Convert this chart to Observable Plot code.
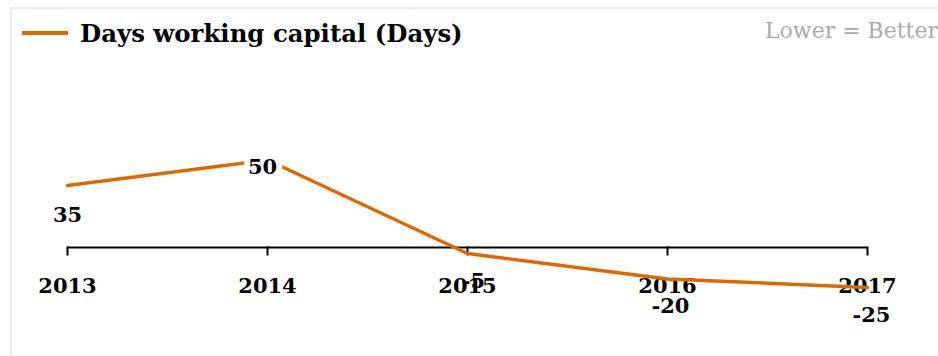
<!DOCTYPE html>
<html>
<head>
<meta charset="utf-8">
<script src="https://cdn.jsdelivr.net/npm/d3@7"></script>
<script src="https://cdn.jsdelivr.net/npm/@observablehq/plot@0.6"></script>
<style>
  html, body { margin: 0; padding: 0; background: #fff; width: 938px; height: 356px; overflow: hidden; }
  #frame { position: absolute; left: 10px; top: 7px; width: 1000px; height: 400px;
           border-left: 2px solid #ebebeb; border-top: 2px solid #ebebeb; }
  #swatch { position: absolute; left: 22px; top: 31px; width: 46px; height: 4px; background: #dc6900; }
  #title { position: absolute; left: 80px; top: 22px; font: bold 24.4px Georgia, "DejaVu Serif", serif;
           line-height: 24px; color: #000; white-space: nowrap; }
  #note { position: absolute; right: 0px; top: 20px; font: 22px Georgia, "DejaVu Serif", serif;
          line-height: 22px; color: #aaaaaa; white-space: nowrap; }
  #chart { position: absolute; left: 0; top: 60px; }
</style>
</head>
<body>
<div id="frame"></div>
<div id="swatch"></div>
<div id="title"></div>
<div id="note"></div>
<div id="chart"></div>
<script>
const seriesName = "Days working capital (Days)";
const noteText = "Lower = Better";
const years = [2013, 2014, 2015, 2016, 2017];
const values = [35, 50, -5, -20, -25];
const valueLabels = ["35", "50", "-5", "-20", "-25"];

const data = years.map((year, i) => ({year, value: values[i], label: valueLabels[i]}));
const orange = "#dc6900";
const font = 'Georgia, "DejaVu Serif", serif';

document.getElementById("title").textContent = seriesName;
document.getElementById("note").textContent = noteText;

function valueLabel(i, dx, dy, halo) {
  return Plot.text(data, {
    filter: (d, j) => j === i,
    x: "year", y: "value", text: "label",
    dx, dy,
    fontSize: 21, fontWeight: "bold", fill: "#000",
    stroke: halo ? "#fff" : null, strokeWidth: halo ? 12 : 0
  });
}

const chart = Plot.plot({
  width: 938,
  height: 296,
  marginLeft: 67,
  marginRight: 71,
  marginTop: 82.5,
  marginBottom: 60.5,
  x: {domain: [2013, 2017], axis: null},
  y: {domain: [-30, 60], axis: null},
  style: {fontFamily: font, background: "transparent", overflow: "visible"},
  marks: [
    Plot.ruleY([0], {stroke: "#000", strokeWidth: 2, dy: 2.5}),
    Plot.ruleX(years, {x: d => d, y1: () => 0, y2: () => 0, insetTop: 2, insetBottom: -11, stroke: "#000", strokeWidth: 2}),
    Plot.text(years, {x: d => d, y: () => 0, text: d => String(d), dy: 41, fontSize: 21, fontWeight: "bold", fill: "#000"}),
    Plot.line(data, {x: "year", y: "value", stroke: orange, strokeWidth: 3.5}),
    valueLabel(0, 0, 30, false),
    valueLabel(1, -5, 7, true),
    valueLabel(2, 6, 27.5, false),
    valueLabel(3, 3, 27.5, false),
    valueLabel(4, 4, 27.5, false)
  ]
});
document.getElementById("chart").appendChild(chart);
</script>
</body>
</html>
